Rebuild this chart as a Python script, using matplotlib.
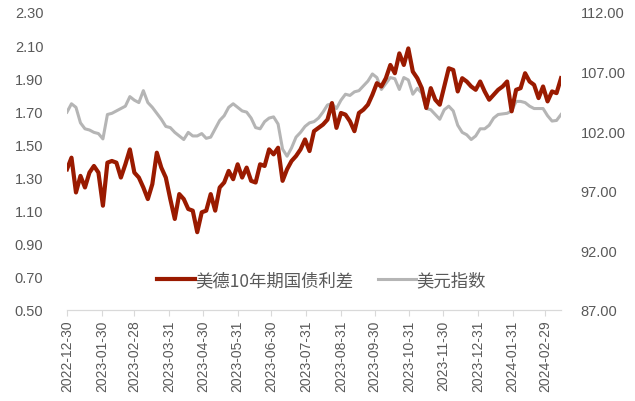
import pandas as pd
import matplotlib.pyplot as plt
import matplotlib.dates as mdates
from matplotlib.ticker import FormatStrFormatter

plt.rcParams['font.family'] = ['Liberation Sans', 'Noto Sans CJK SC', 'DejaVu Sans']

# US-German 10y yield spread (left axis), sampled every 4 days from 2022-12-30
spread = [1.35, 1.42, 1.21, 1.31, 1.24, 1.33, 1.37, 1.33, 1.13, 1.39,
          1.40, 1.39, 1.30, 1.38, 1.47, 1.33, 1.30, 1.24, 1.17, 1.26,
          1.45, 1.36, 1.30, 1.17, 1.05, 1.20, 1.17, 1.11, 1.10, 0.97,
          1.09, 1.10, 1.20, 1.10, 1.24, 1.27, 1.34, 1.29, 1.38, 1.30,
          1.36, 1.28, 1.27, 1.38, 1.37, 1.47, 1.44, 1.48, 1.28, 1.35,
          1.40, 1.43, 1.47, 1.53, 1.46, 1.58, 1.60, 1.62, 1.65, 1.75,
          1.60, 1.69, 1.68, 1.64, 1.58, 1.69, 1.71, 1.74, 1.80, 1.87,
          1.85, 1.90, 1.98, 1.93, 2.05, 1.98, 2.08, 1.94, 1.90, 1.84,
          1.72, 1.84, 1.77, 1.74, 1.85, 1.96, 1.95, 1.82, 1.90, 1.88,
          1.85, 1.83, 1.88, 1.82, 1.77, 1.80, 1.83, 1.85, 1.88, 1.70,
          1.83, 1.84, 1.93, 1.88, 1.86, 1.78, 1.85, 1.76, 1.82, 1.81,
          1.90]

# US dollar index (right axis), same dates
dxy = [103.6, 104.3, 104.0, 102.7, 102.2, 102.1, 101.9, 101.8, 101.35, 103.4,
       103.5, 103.7, 103.9, 104.1, 104.9, 104.6, 104.4, 105.4, 104.4, 104.0,
       103.5, 103.0, 102.4, 102.3, 101.9, 101.6, 101.3, 101.9, 101.6, 101.6,
       101.8, 101.4, 101.5, 102.2, 102.9, 103.3, 104.0, 104.3, 104.0, 103.7,
       103.6, 103.1, 102.3, 102.2, 102.8, 103.1, 103.2, 102.6, 100.5, 99.9,
       100.6, 101.5, 101.9, 102.4, 102.7, 102.8, 103.1, 103.6, 104.2, 104.3,
       103.9, 104.6, 105.1, 105.0, 105.3, 105.4, 105.8, 106.2, 106.8, 106.5,
       105.5, 106.0, 106.5, 106.4, 105.5, 106.5, 106.3, 105.1, 105.6, 105.2,
       103.9, 103.8, 103.4, 103.0, 103.8, 104.1, 103.7, 102.5, 101.9, 101.7,
       101.3, 101.6, 102.2, 102.2, 102.5, 103.1, 103.4, 103.45, 103.5, 103.7,
       104.5, 104.5, 104.4, 104.1, 103.9, 103.9, 103.9, 103.3, 102.85, 102.9,
       103.4]

dates = pd.date_range('2022-12-30', periods=len(spread), freq='4D')

tick_dates = ['2022-12-30', '2023-01-30', '2023-02-28', '2023-03-31', '2023-04-30',
              '2023-05-31', '2023-06-30', '2023-07-31', '2023-08-31', '2023-09-30',
              '2023-10-31', '2023-11-30', '2023-12-31', '2024-01-31', '2024-02-29']

red = '#9a1a00'
grey = '#b5b5b5'
txt = '#595959'

fig = plt.figure(figsize=(6.35, 4.02), dpi=100)
ax = fig.add_axes([0.1055, 0.2264, 0.778, 0.7413])
ax2 = ax.twinx()
# spread line drawn above the dollar index
ax.set_zorder(ax2.get_zorder() + 1)
ax.patch.set_visible(False)

l2, = ax2.plot(dates, dxy, color=grey, lw=2.2, solid_joinstyle='round')
l1, = ax.plot(dates, spread, color=red, lw=3.0, solid_joinstyle='round')

ax.set_xlim(pd.Timestamp('2022-12-30'), pd.Timestamp('2024-03-14'))
ax.set_ylim(0.5, 2.3)
ax.set_yticks([0.5 + 0.2 * i for i in range(10)])
ax.yaxis.set_major_formatter(FormatStrFormatter('%.2f'))
ax2.set_ylim(87, 112)
ax2.set_yticks([87, 92, 97, 102, 107, 112])
ax2.yaxis.set_major_formatter(FormatStrFormatter('%.2f'))

ax.set_xticks(pd.to_datetime(tick_dates))
ax.xaxis.set_major_formatter(mdates.DateFormatter('%Y-%m-%d'))
for lab in ax.get_xticklabels():
    lab.set_rotation(90)

for a in (ax, ax2):
    for s in ('top', 'left', 'right'):
        a.spines[s].set_visible(False)
    a.spines['bottom'].set_color('#d9d9d9')
    a.tick_params(axis='y', length=0, labelsize=10.5, labelcolor=txt)
ax.tick_params(axis='y', pad=17)
ax2.tick_params(axis='y', pad=14)
ax.tick_params(axis='x', length=4, color='#d9d9d9', labelsize=10, labelcolor=txt, pad=3)

leg = ax.legend([l1, l2], ['美德10年期国债利差', '美元指数'], loc='center',
                bbox_to_anchor=(0.515, 0.10), ncol=2, frameon=False,
                prop={'family': ['Noto Sans CJK SC', 'DejaVu Sans'], 'size': 12.5},
                handlelength=2.2, handletextpad=0.0, columnspacing=1.4)
for t in leg.get_texts():
    t.set_color(txt)

fig.savefig('out.png', dpi=100)
